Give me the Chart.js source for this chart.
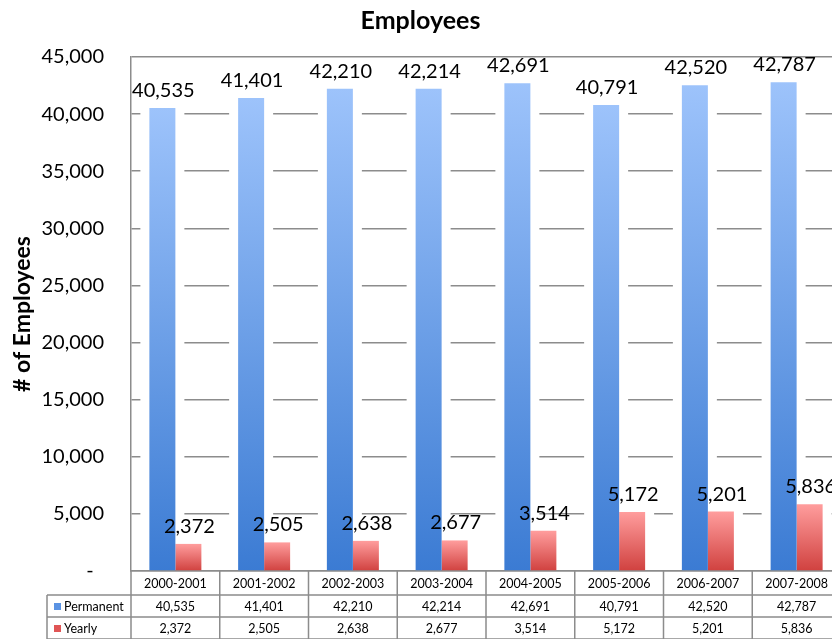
<html>
<head>
  <meta charset="UTF-8">
  <script src="https://cdn.jsdelivr.net/npm/chart.js@4.4.0/dist/chart.umd.min.js"></script>
  <style>
    body { margin: 0; overflow: hidden; background: #fff; }
  </style>
</head>
<body>
  <canvas id="chart" width="845" height="639"></canvas>
  <script>
    // data
    const categories = ['2000-2001', '2001-2002', '2002-2003', '2003-2004', '2004-2005', '2005-2006', '2006-2007', '2007-2008'];
    const permanent = [40535, 41401, 42210, 42214, 42691, 40791, 42520, 42787];
    const yearly = [2372, 2505, 2638, 2677, 3514, 5172, 5201, 5836];
    const seriesNames = ['Permanent', 'Yearly'];

    const FONT = 'Lato, "Open Sans", sans-serif';
    const GRID = '#8c8c8c';
    const fmt = v => v.toLocaleString('en-US');

    // vertical gradient per bar, like the excel fill
    function barFill(light, dark) {
      return function (c) {
        const chart = c.chart;
        const y = chart.scales.y;
        if (!chart.chartArea || !y || c.raw == null) return dark;
        const top = y.getPixelForValue(c.raw);
        const bot = y.getPixelForValue(0);
        const g = chart.ctx.createLinearGradient(0, top, 0, bot);
        g.addColorStop(0, light);
        g.addColorStop(1, dark);
        return g;
      };
    }

    // white halo round the bars, hides the gridlines near them
    const halo = {
      id: 'halo',
      beforeDatasetsDraw(chart) {
        const ctx = chart.ctx;
        ctx.save();
        ctx.fillStyle = '#fff';
        chart.data.datasets.forEach((ds, i) => {
          chart.getDatasetMeta(i).data.forEach(bar => {
            const p = bar.getProps(['x', 'y', 'base', 'width'], true);
            ctx.fillRect(p.x - p.width / 2 - 9, p.y - 4, p.width + 18, p.base - p.y + 3);
          });
        });
        ctx.restore();
      }
    };

    // value labels over the bars
    const valueLabels = {
      id: 'valueLabels',
      afterDatasetsDraw(chart) {
        const ctx = chart.ctx;
        ctx.save();
        ctx.font = '20px ' + FONT;
        ctx.fillStyle = '#000';
        ctx.textAlign = 'center';
        ctx.textBaseline = 'alphabetic';
        chart.data.datasets.forEach((ds, i) => {
          chart.getDatasetMeta(i).data.forEach((bar, j) => {
            const p = bar.getProps(['x', 'y'], true);
            ctx.fillText(fmt(ds.data[j]), p.x + 1, p.y - 11);
          });
        });
        ctx.restore();
      }
    };

    // data table under the axis
    const dataTable = {
      id: 'dataTable',
      afterDraw(chart) {
        const ctx = chart.ctx;
        const xs = chart.scales.x;
        const area = chart.chartArea;
        const colW = (area.right - area.left) / categories.length;
        const rows = [area.bottom, area.bottom + 24, area.bottom + 46, area.bottom + 68];
        const labelLeft = 47;
        ctx.save();
        ctx.strokeStyle = GRID;
        ctx.lineWidth = 1.5;
        ctx.beginPath();
        for (let i = 0; i <= categories.length; i++) {
          const x = area.left + i * colW;
          ctx.moveTo(x, rows[0]);
          ctx.lineTo(x, rows[3]);
        }
        ctx.moveTo(labelLeft, rows[1]);
        ctx.lineTo(labelLeft, rows[3]);
        for (let r = 1; r < rows.length; r++) {
          ctx.moveTo(labelLeft, rows[r]);
          ctx.lineTo(area.right, rows[r]);
        }
        ctx.stroke();

        ctx.font = '12.5px ' + FONT;
        ctx.fillStyle = '#000';
        ctx.textBaseline = 'middle';
        ctx.textAlign = 'center';
        categories.forEach((c, i) => {
          const x = xs.getPixelForValue(i);
          ctx.fillText(c, x, (rows[0] + rows[1]) / 2 + 1);
          ctx.fillText(fmt(permanent[i]), x, (rows[1] + rows[2]) / 2 + 1);
          ctx.fillText(fmt(yearly[i]), x, (rows[2] + rows[3]) / 2 + 1);
        });

        const keys = ['#5b93e3', '#e05555'];
        seriesNames.forEach((name, r) => {
          const cy = (rows[r + 1] + rows[r + 2]) / 2;
          ctx.fillStyle = keys[r];
          ctx.fillRect(54, cy - 3, 7, 7);
          ctx.fillStyle = '#000';
          ctx.textAlign = 'left';
          ctx.fillText(name, 64, cy + 1);
        });
        ctx.restore();
      }
    };

    const ctx = document.getElementById('chart').getContext('2d');
    new Chart(ctx, {
      type: 'bar',
      data: {
        labels: categories,
        datasets: [
          {
            label: seriesNames[0],
            data: permanent,
            backgroundColor: barFill('#9dc3fb', '#3b7bd3'),
            categoryPercentage: 0.586,
            barPercentage: 1.0
          },
          {
            label: seriesNames[1],
            data: yearly,
            backgroundColor: barFill('#ff9d9d', '#d0413f'),
            categoryPercentage: 0.586,
            barPercentage: 1.0
          }
        ]
      },
      options: {
        responsive: false,
        animation: false,
        layout: { padding: { left: 0, right: 4, top: 0, bottom: 68 } },
        plugins: {
          legend: { display: false },
          tooltip: { enabled: false },
          title: {
            display: true,
            text: 'Employees',
            color: '#000',
            font: { family: FONT, size: 25, weight: 'bold' },
            padding: { top: 6, bottom: 21 }
          }
        },
        scales: {
          x: {
            grid: { display: false, drawTicks: false },
            border: { display: true, color: GRID, width: 1.5 },
            ticks: { display: false }
          },
          y: {
            min: 0,
            max: 45000,
            afterFit(s) { s.width = 131; },
            ticks: {
              stepSize: 5000,
              padding: 27,
              color: '#000',
              font: { family: FONT, size: 20 },
              callback: v => v === 0 ? '-  ' : fmt(v)
            },
            grid: { color: GRID, lineWidth: 1.5, drawTicks: false },
            border: { display: true, color: GRID, width: 1.5 },
            title: {
              display: true,
              text: '# of Employees',
              color: '#000',
              font: { family: FONT, size: 23, weight: 'bold' },
              padding: { top: 9 }
            }
          }
        }
      },
      plugins: [halo, valueLabels, dataTable]
    });
  </script>
</body>
</html>
